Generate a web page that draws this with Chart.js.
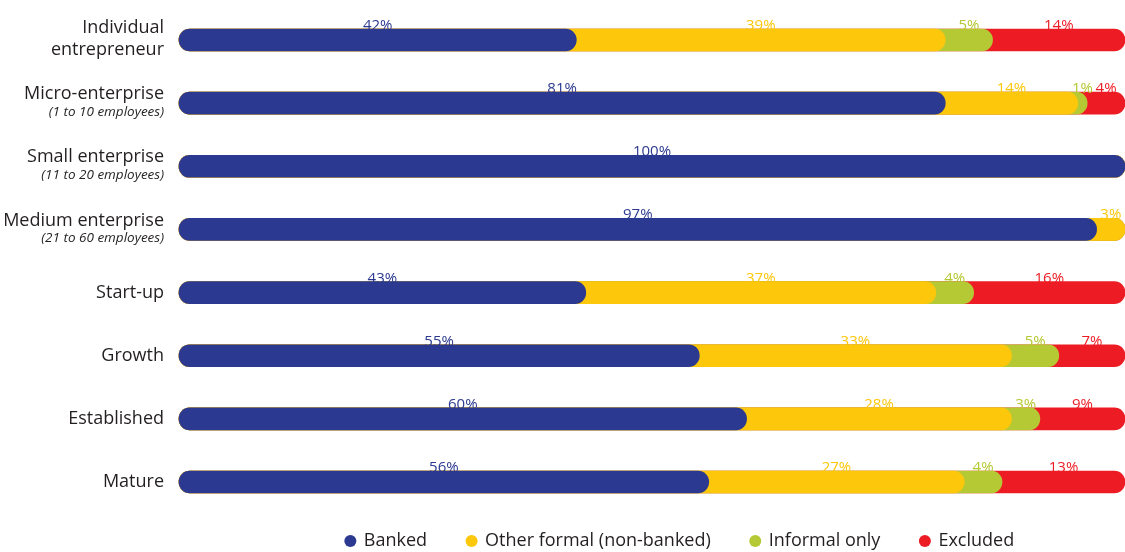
<!DOCTYPE html>
<html>
<head>
<meta charset="utf-8">
<script src="https://cdn.jsdelivr.net/npm/chart.js@4/dist/chart.umd.min.js"></script>
<style>
  html, body { margin: 0; padding: 0; background: #fff; }
  #wrap { width: 1125px; height: 552px; }
</style>
</head>
<body>
<div id="wrap"><canvas id="chart"></canvas></div>
<script>
const categories = [['Individual', 'entrepreneur'], 'Micro-enterprise', 'Small enterprise', 'Medium enterprise', 'Start-up', 'Growth', 'Established', 'Mature'];
const categoryNotes = ['', '(1 to 10 employees)', '(11 to 20 employees)', '(21 to 60 employees)', '', '', '', ''];
const seriesNames = ['Banked', 'Other formal (non-banked)', 'Informal only', 'Excluded'];
const banked       = [42, 81, 100, 97, 43, 55, 60, 56];
const otherFormal  = [39, 14,   0,  3, 37, 33, 28, 27];
const informalOnly = [ 5,  1,   0,  0,  4,  5,  3,  4];
const excluded     = [14,  4,   0,  0, 16,  7,  9, 13];

const series = [banked, otherFormal, informalOnly, excluded];
const colors = ['#2b3990', '#fdc70c', '#b5c934', '#ed1c24'];
const textColor = '#231f20';
const FONT = '"Open Sans", "Noto Sans", sans-serif';

// running totals: where each segment starts
const starts = series.map((s, d) => s.map((_, i) => {
  let sum = 0;
  for (let k = 0; k < d; k++) sum += series[k][i];
  return sum;
}));

// every segment is a pill from 0 to its running end; earlier datasets sit on top
const datasets = series.map((s, d) => ({
  label: seriesNames[d],
  data: s.map((v, i) => [0, starts[d][i] + v]),
  backgroundColor: colors[d],
  borderWidth: 0,
  borderRadius: 11,
  borderSkipped: false,
  barThickness: 22,
  grouped: false,
  clip: false
}));

// category names on the left, with the small italic size notes
const categoryLabels = {
  id: 'categoryLabels',
  afterDraw(chart) {
    const { ctx, scales: { y } } = chart;
    const right = chart.chartArea.left - 15;
    ctx.save();
    ctx.textAlign = 'right';
    ctx.textBaseline = 'middle';
    ctx.fillStyle = textColor;
    categories.forEach((cat, i) => {
      const cy = y.getPixelForTick(i);
      const lines = Array.isArray(cat) ? cat : [cat];
      ctx.font = '18px ' + FONT;
      if (categoryNotes[i]) {
        ctx.fillText(lines[0], right, cy - 9);
        ctx.font = 'italic 13.5px ' + FONT;
        ctx.fillText(categoryNotes[i], right, cy + 9);
      } else if (lines.length > 1) {
        lines.forEach((l, k) => ctx.fillText(l, right, cy - 12 + k * 22));
      } else {
        ctx.fillText(lines[0], right, cy);
      }
    });
    ctx.restore();
  }
};

// percentage above the middle of each segment
const valueLabels = {
  id: 'valueLabels',
  afterDatasetsDraw(chart) {
    const { ctx, scales: { x } } = chart;
    ctx.save();
    ctx.font = '15px ' + FONT;
    ctx.textAlign = 'center';
    ctx.textBaseline = 'alphabetic';
    series.forEach((s, d) => {
      const meta = chart.getDatasetMeta(d);
      ctx.fillStyle = colors[d];
      s.forEach((v, i) => {
        if (!v) return;
        const bar = meta.data[i];
        const cx = x.getPixelForValue(starts[d][i] + v / 2);
        ctx.fillText(v + '%', cx, bar.y - bar.height / 2 + 1);
      });
    });
    ctx.restore();
  }
};

// nudge the legend row a little to the right of the plot centre
const legendShift = {
  id: 'legendShift',
  afterLayout(chart) {
    if (chart.legend) chart.legend.left += 56;
  }
};

new Chart(document.getElementById('chart'), {
  type: 'bar',
  data: { labels: categories, datasets },
  options: {
    indexAxis: 'y',
    responsive: true,
    maintainAspectRatio: false,
    animation: false,
    devicePixelRatio: 1,
    layout: { padding: { top: 40, right: 0, left: 0, bottom: -8 } },
    scales: {
      x: {
        min: 0, max: 100,
        grid: { display: false },
        border: { display: false },
        ticks: { display: false },
        afterFit(scale) { scale.height = 10; }
      },
      y: {
        offset: false,
        grid: { display: false },
        border: { display: false },
        ticks: { display: false },
        afterFit(scale) { scale.width = 179; }
      }
    },
    plugins: {
      tooltip: { enabled: false },
      legend: {
        position: 'bottom',
        fullSize: false,
        labels: {
          usePointStyle: true,
          pointStyle: 'circle',
          boxWidth: 9,
          boxHeight: 8.5,
          padding: 40,
          color: textColor,
          font: { family: FONT, size: 18 }
        }
      }
    }
  },
  plugins: [categoryLabels, valueLabels, legendShift]
});
</script>
</body>
</html>
